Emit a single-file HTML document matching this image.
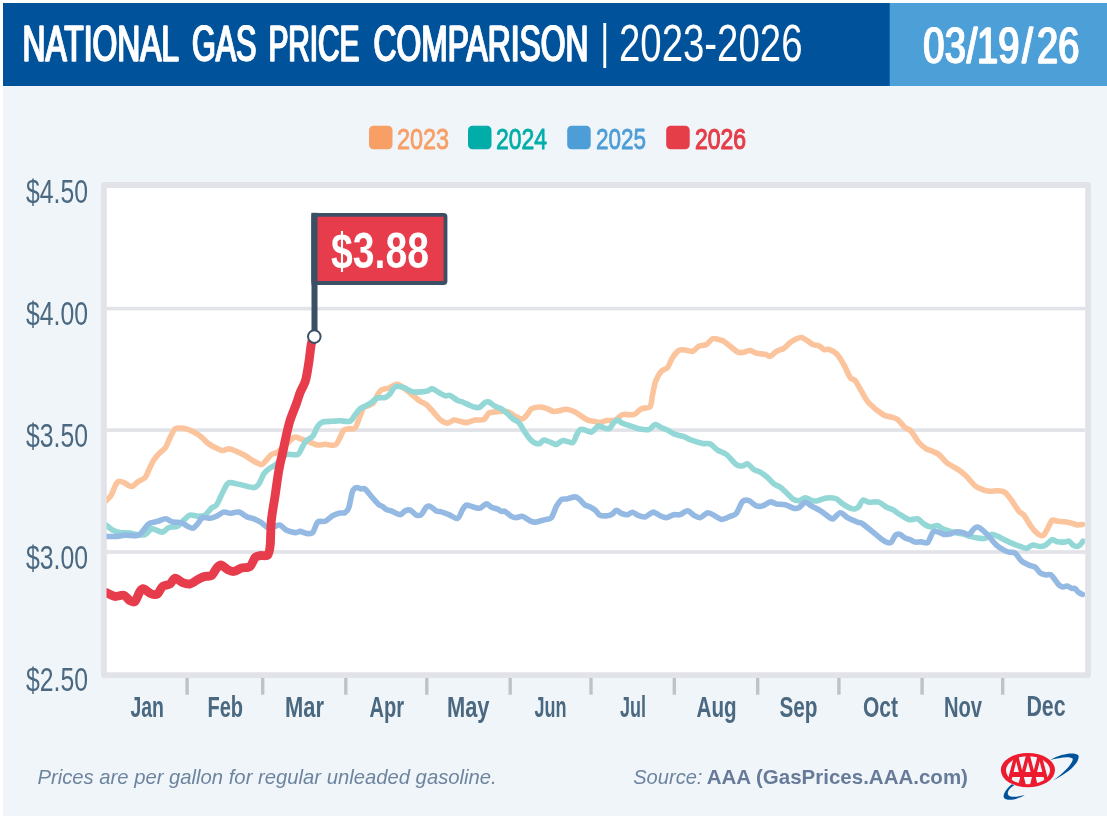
<!DOCTYPE html>
<html lang="en"><head><meta charset="utf-8"><title>National Gas Price Comparison | 2023-2026</title>
<style>
html,body{margin:0;padding:0;background:#fff;}
body{width:1107px;height:816px;overflow:hidden;}
svg{display:block;}
svg text{font-family:"Liberation Sans",sans-serif;white-space:pre;}
</style></head><body>
<svg width="1107" height="816" viewBox="0 0 1107 816">
<rect x="0" y="0" width="1107" height="816" fill="#fff"/>
<rect x="3" y="3" width="1104" height="813" fill="#f0f5fa"/>
<rect x="3" y="3" width="887" height="83" fill="#00529b"/>
<rect x="889.7" y="3" width="217.29999999999995" height="83" fill="#4d9fd8"/>
<defs><filter id="fat" x="-5%" y="-10%" width="110%" height="120%" color-interpolation-filters="sRGB"><feOffset in="SourceGraphic" dx="1" result="a"/><feMerge><feMergeNode in="a"/><feMergeNode in="SourceGraphic"/></feMerge></filter></defs>
<text y="60.9" font-size="50.86" font-weight="400" fill="#fff" stroke="#fff" stroke-width="1.0" stroke-linejoin="round" filter="url(#fat)"><tspan x="21.99" textLength="155.33" lengthAdjust="spacingAndGlyphs">NATIONAL</tspan> <tspan x="191.47" textLength="64.53" lengthAdjust="spacingAndGlyphs">GAS</tspan> <tspan x="267.97" textLength="91.02" lengthAdjust="spacingAndGlyphs">PRICE</tspan> <tspan x="372.98" textLength="215.04" lengthAdjust="spacingAndGlyphs">COMPARISON</tspan></text>
<text x="600.3" y="58.4" font-size="47.5" fill="#fff" textLength="9" lengthAdjust="spacingAndGlyphs">|</text>
<text x="618.95" y="61.1" font-size="51.86" font-weight="400" fill="#fff" textLength="183.58" lengthAdjust="spacingAndGlyphs">2023-2026</text>
<text transform="translate(0,63.1) scale(0.75,1)" x="1230.3 1259.1 1288.5 1302.1 1330.5 1362.3 1382.1 1410.3" y="0" font-size="50.6" font-weight="400" fill="#fff" stroke="#fff" stroke-width="1.0" stroke-linejoin="round" filter="url(#fat)" >03/19/26</text>
<rect x="369" y="125.8" width="23.5" height="23.5" rx="4.5" fill="#f79f65"/>
<text x="396.98" y="149.2" font-size="29.14" font-weight="400" fill="#f79f65" stroke="#f79f65" stroke-width="0.8" stroke-linejoin="round" textLength="52.06" lengthAdjust="spacingAndGlyphs">2023</text>
<rect x="468" y="125.8" width="23.5" height="23.5" rx="4.5" fill="#00ada8"/>
<text x="496.0" y="149.2" font-size="29.14" font-weight="400" fill="#00ada8" stroke="#00ada8" stroke-width="0.8" stroke-linejoin="round" textLength="51.04" lengthAdjust="spacingAndGlyphs">2024</text>
<rect x="567.2" y="125.8" width="23.5" height="23.5" rx="4.5" fill="#4d9dd6"/>
<text x="595.98" y="149.2" font-size="29.14" font-weight="400" fill="#4d9dd6" stroke="#4d9dd6" stroke-width="0.8" stroke-linejoin="round" textLength="50.05" lengthAdjust="spacingAndGlyphs">2025</text>
<rect x="666.2" y="125.8" width="23.5" height="23.5" rx="4.5" fill="#e63e49"/>
<text x="694.99" y="149.2" font-size="29.14" font-weight="400" fill="#e63e49" stroke="#e63e49" stroke-width="1.2" stroke-linejoin="round" textLength="51.03" lengthAdjust="spacingAndGlyphs">2026</text>
<rect x="103.9" y="185" width="984.2" height="490.2" rx="1" fill="#fff" stroke="#e1e3e8" stroke-width="5.8"/>
<rect x="106.5" y="306.8" width="978.5" height="3.6" fill="#e1e3e8"/>
<rect x="106.5" y="428.3" width="978.5" height="3.6" fill="#e1e3e8"/>
<rect x="106.5" y="550.2" width="978.5" height="3.6" fill="#e1e3e8"/>
<text x="25.99" y="203.3" font-size="33.71" font-weight="400" fill="#4a6880" textLength="62.02" lengthAdjust="spacingAndGlyphs">$4.50</text>
<text x="25.99" y="325.2" font-size="33.71" font-weight="400" fill="#4a6880" textLength="62.02" lengthAdjust="spacingAndGlyphs">$4.00</text>
<text x="25.99" y="447.1" font-size="33.71" font-weight="400" fill="#4a6880" textLength="62.02" lengthAdjust="spacingAndGlyphs">$3.50</text>
<text x="25.99" y="569.0" font-size="33.71" font-weight="400" fill="#4a6880" textLength="62.02" lengthAdjust="spacingAndGlyphs">$3.00</text>
<text x="25.99" y="690.9" font-size="33.71" font-weight="400" fill="#4a6880" textLength="62.02" lengthAdjust="spacingAndGlyphs">$2.50</text>
<rect x="185.4" y="678" width="3.4" height="16.7" fill="#bfc2c9"/>
<rect x="261.0" y="678" width="3.4" height="16.7" fill="#bfc2c9"/>
<rect x="344.1" y="678" width="3.4" height="16.7" fill="#bfc2c9"/>
<rect x="425.1" y="678" width="3.4" height="16.7" fill="#bfc2c9"/>
<rect x="508.5" y="678" width="3.4" height="16.7" fill="#bfc2c9"/>
<rect x="589.3" y="678" width="3.4" height="16.7" fill="#bfc2c9"/>
<rect x="672.5999999999999" y="678" width="3.4" height="16.7" fill="#bfc2c9"/>
<rect x="756.0" y="678" width="3.4" height="16.7" fill="#bfc2c9"/>
<rect x="837.1999999999999" y="678" width="3.4" height="16.7" fill="#bfc2c9"/>
<rect x="920.4" y="678" width="3.4" height="16.7" fill="#bfc2c9"/>
<rect x="1001.0" y="678" width="3.4" height="16.7" fill="#bfc2c9"/>
<text x="130.48" y="717.4" font-size="29.0" font-weight="700" fill="#4a6880" textLength="33.54" lengthAdjust="spacingAndGlyphs">Jan</text>
<text x="207.47" y="717.4" font-size="29.0" font-weight="700" fill="#4a6880" textLength="35.54" lengthAdjust="spacingAndGlyphs">Feb</text>
<text x="284.97" y="717.4" font-size="29.0" font-weight="700" fill="#4a6880" textLength="39.03" lengthAdjust="spacingAndGlyphs">Mar</text>
<text x="369.5" y="717.4" font-size="29.0" font-weight="700" fill="#4a6880" textLength="34.52" lengthAdjust="spacingAndGlyphs">Apr</text>
<text x="446.92" y="717.4" font-size="29.0" font-weight="700" fill="#4a6880" textLength="42.6" lengthAdjust="spacingAndGlyphs">May</text>
<text x="534.49" y="717.4" font-size="29.0" font-weight="700" fill="#4a6880" textLength="32.03" lengthAdjust="spacingAndGlyphs">Jun</text>
<text x="620.0" y="717.4" font-size="29.0" font-weight="700" fill="#4a6880" textLength="26.04" lengthAdjust="spacingAndGlyphs">Jul</text>
<text x="696.51" y="717.4" font-size="29.0" font-weight="700" fill="#4a6880" textLength="40.07" lengthAdjust="spacingAndGlyphs">Aug</text>
<text x="779.48" y="717.4" font-size="29.0" font-weight="700" fill="#4a6880" textLength="38.04" lengthAdjust="spacingAndGlyphs">Sep</text>
<text x="863.0" y="717.4" font-size="29.0" font-weight="700" fill="#4a6880" textLength="35.0" lengthAdjust="spacingAndGlyphs">Oct</text>
<text x="943.93" y="717.4" font-size="29.0" font-weight="700" fill="#4a6880" textLength="38.09" lengthAdjust="spacingAndGlyphs">Nov</text>
<text x="1026.41" y="715.6" font-size="29.0" font-weight="700" fill="#4a6880" textLength="39.12" lengthAdjust="spacingAndGlyphs">Dec</text>
<clipPath id="pc"><rect x="106.5" y="188" width="978.5" height="484"/></clipPath>
<g clip-path="url(#pc)">
<path d="M106.3,500.6C107.0,499.8 110.1,497.1 111.3,495.1C112.5,493.1 114.0,488.2 115.0,486.3C116.0,484.4 117.4,481.7 118.8,481.3C120.2,480.9 123.6,482.5 125.0,483.1C126.4,483.7 127.8,485.2 128.8,485.6C129.9,486.0 131.3,486.8 132.5,486.3C133.7,485.8 135.8,483.3 137.5,482.1C139.2,480.9 143.4,479.3 145.0,477.6C146.6,475.9 147.6,472.5 148.8,470.0C150.0,467.5 152.2,462.4 153.8,460.0C155.4,457.6 158.4,454.2 160.1,452.5C161.8,450.8 164.2,449.6 165.6,447.5C167.0,445.4 168.8,440.1 170.1,437.5C171.4,434.9 173.7,430.1 175.1,428.8C176.5,427.5 178.5,428.0 180.1,428.0C181.7,428.0 184.4,428.2 186.3,428.8C188.2,429.4 191.7,430.9 193.8,432.0C195.9,433.1 199.4,435.5 201.3,437.0C203.2,438.5 205.7,441.5 207.6,443.0C209.5,444.5 213.0,446.4 215.1,447.5C217.2,448.6 220.7,450.3 222.6,450.5C224.5,450.7 227.0,448.7 228.9,448.8C230.8,448.9 234.1,450.4 236.4,451.3C238.7,452.2 242.8,454.2 245.1,455.5C247.4,456.8 250.3,459.2 252.6,460.5C254.9,461.8 259.5,464.6 261.4,464.5C263.3,464.4 265.0,461.4 266.4,460.0C267.8,458.6 269.8,455.6 271.4,454.5C273.0,453.4 274.6,454.4 277.7,452.0C280.8,449.6 290.8,439.3 293.9,437.5C297.0,435.7 298.3,438.3 300.2,438.8C302.1,439.3 305.2,440.4 307.7,441.3C310.1,442.2 315.2,444.6 317.7,445.0C320.1,445.4 322.8,444.3 325.2,444.3C327.6,444.3 333.1,445.9 335.2,445.0C337.3,444.1 338.8,439.7 340.0,437.6C341.2,435.5 342.6,431.3 343.8,430.1C345.0,428.9 347.2,429.1 348.8,428.8C350.4,428.5 353.4,429.9 355.0,428.1C356.6,426.4 358.8,419.2 360.0,416.3C361.2,413.4 362.1,409.2 363.8,407.5C365.6,405.8 370.6,405.6 372.5,403.8C374.4,402.1 376.3,396.9 377.5,395.0C378.7,393.1 379.7,391.0 381.3,390.0C382.9,389.0 386.7,388.8 388.8,388.0C390.9,387.2 394.7,384.7 396.3,384.3C397.9,383.9 398.7,384.7 400.1,385.5C401.5,386.3 404.6,388.7 406.3,390.0C408.1,391.3 410.7,393.4 412.6,395.0C414.5,396.6 418.2,400.0 420.1,401.3C422.0,402.6 424.4,402.9 426.3,404.5C428.2,406.1 431.9,410.4 433.8,412.5C435.7,414.6 438.2,418.1 440.1,419.6C442.0,421.1 445.7,423.0 447.6,423.1C449.5,423.2 452.1,420.4 453.9,420.1C455.6,419.8 458.4,420.9 460.1,421.3C461.9,421.7 464.3,422.8 466.4,422.6C468.5,422.4 472.7,420.5 475.1,420.1C477.6,419.7 482.0,420.6 483.9,419.6C485.8,418.6 487.3,414.1 488.9,413.0C490.5,411.9 493.2,412.2 495.1,412.0C497.0,411.8 500.7,411.3 502.6,411.3C504.5,411.3 507.1,411.3 508.9,412.0C510.7,412.7 513.3,415.3 515.2,416.3C517.1,417.3 521.0,419.2 522.7,418.8C524.5,418.4 526.5,415.2 527.7,413.8C528.9,412.4 529.8,409.8 531.4,408.8C533.0,407.8 536.8,407.1 538.9,407.0C541.0,406.9 544.5,407.7 546.4,408.3C548.3,408.9 551.0,410.9 552.7,411.3C554.5,411.7 557.0,411.1 558.9,410.8C560.8,410.5 564.2,409.1 566.5,409.3C568.8,409.5 573.1,411.0 575.2,412.0C577.3,413.0 579.8,415.2 581.5,416.3C583.2,417.4 586.0,419.4 587.7,420.1C589.5,420.8 592.3,420.9 594.0,421.3C595.7,421.7 598.3,422.7 600.0,422.6C601.7,422.5 604.2,421.0 606.3,420.6C608.4,420.2 612.7,420.9 615.0,420.1C617.3,419.3 619.9,415.4 622.5,414.6C625.1,413.8 631.2,415.4 633.8,414.6C636.4,413.8 639.0,409.9 641.3,408.8C643.6,407.7 648.4,408.7 650.0,406.8C651.6,404.9 651.7,398.7 652.5,395.1C653.3,391.5 654.4,384.6 655.6,381.3C656.8,378.0 659.6,373.2 661.3,371.3C663.0,369.4 666.0,369.4 667.6,367.5C669.2,365.6 671.0,359.9 672.6,357.5C674.2,355.1 677.0,351.6 678.8,350.5C680.5,349.4 683.2,349.9 685.1,350.0C687.0,350.1 690.7,351.8 692.6,351.3C694.5,350.8 696.9,347.3 698.8,346.3C700.7,345.3 704.4,345.6 706.3,344.5C708.2,343.4 711.0,339.5 712.6,338.8C714.2,338.1 716.0,338.9 717.6,339.3C719.2,339.7 722.1,340.3 723.9,341.3C725.6,342.3 728.2,344.8 730.1,346.3C732.0,347.8 735.9,351.1 737.6,352.0C739.4,352.9 740.9,352.7 742.6,352.5C744.4,352.3 748.2,350.4 750.1,350.5C752.0,350.6 754.3,352.8 756.4,353.3C758.5,353.8 763.2,353.9 765.1,354.3C767.0,354.7 768.6,356.7 770.2,356.3C771.8,355.9 774.5,352.4 776.4,351.3C778.3,350.2 782.0,349.5 783.9,348.3C785.8,347.1 788.5,343.8 790.2,342.5C792.0,341.2 794.8,339.5 796.4,338.8C798.0,338.1 800.0,337.3 801.4,337.5C802.8,337.7 804.8,339.0 806.4,340.0C808.0,341.0 811.0,343.7 812.7,344.5C814.5,345.3 817.3,345.1 818.9,345.8C820.5,346.5 822.6,349.0 824.0,349.5C825.4,350.0 827.2,348.9 829.0,349.5C830.8,350.1 834.4,351.6 836.5,353.8C838.6,356.0 842.1,361.7 844.0,365.0C845.9,368.3 848.6,375.4 850.2,377.6C851.8,379.8 853.6,378.7 855.2,380.6C856.8,382.5 859.6,388.2 861.5,391.3C863.4,394.4 865.9,399.8 869.0,403.1C872.1,406.4 880.7,413.1 883.8,415.0C886.9,416.9 889.4,416.4 891.3,417.0C893.2,417.6 895.7,418.0 897.6,419.5C899.5,421.0 903.2,425.8 905.1,427.5C907.0,429.2 909.4,429.2 911.3,431.3C913.2,433.4 916.7,440.1 918.8,442.5C920.9,444.9 924.4,447.6 926.3,448.8C928.2,450.0 930.9,450.5 932.6,451.3C934.4,452.1 936.9,452.9 938.8,454.5C940.7,456.1 944.5,460.8 946.4,462.5C948.3,464.2 950.9,465.2 952.6,466.3C954.4,467.4 957.0,468.7 958.9,470.1C960.8,471.5 964.1,474.1 966.4,476.3C968.7,478.5 972.8,483.9 975.1,485.8C977.4,487.7 980.5,488.8 982.6,489.6C984.7,490.4 988.0,491.1 990.1,491.3C992.2,491.5 995.6,490.6 997.7,490.8C999.8,491.0 1003.3,491.3 1005.2,492.6C1007.1,493.9 1009.5,497.5 1011.4,500.1C1013.3,502.7 1017.1,509.2 1018.9,511.3C1020.6,513.4 1022.3,513.2 1023.9,515.1C1025.5,517.0 1028.5,522.6 1030.2,525.1C1032.0,527.6 1034.7,531.1 1036.4,532.6C1038.2,534.1 1041.2,536.2 1042.7,535.7C1044.2,535.2 1046.1,531.2 1047.4,529.0C1048.7,526.8 1050.7,521.3 1052.1,520.2C1053.5,519.1 1055.8,521.1 1057.5,521.3C1059.2,521.5 1062.4,521.6 1064.3,521.8C1066.2,522.0 1069.2,522.5 1071.0,522.9C1072.8,523.3 1075.5,524.7 1077.1,524.9C1078.7,525.1 1081.7,524.6 1082.5,524.5" fill="none" stroke="#fbc49c" stroke-width="5.6" stroke-linejoin="round" stroke-linecap="round"/>
<path d="M106.3,525.1C107.2,525.8 110.6,529.1 112.5,530.1C114.4,531.1 117.5,532.2 120.0,532.6C122.5,533.0 127.5,532.8 130.0,533.1C132.4,533.4 135.4,534.4 137.5,534.6C139.6,534.8 143.1,535.4 145.0,534.6C146.9,533.8 149.7,529.4 151.3,528.8C152.9,528.2 154.7,529.6 156.3,530.1C157.9,530.6 160.8,532.5 162.6,532.1C164.3,531.8 166.7,528.4 168.8,527.6C170.9,526.8 175.5,527.3 177.6,526.3C179.7,525.2 182.1,521.7 183.8,520.1C185.6,518.5 188.0,515.6 190.1,515.1C192.2,514.6 196.7,516.3 198.8,516.3C200.9,516.3 203.3,516.2 205.1,515.1C206.9,514.0 209.8,509.5 211.4,508.1C213.0,506.7 215.0,506.9 216.4,505.1C217.8,503.3 220.0,497.9 221.4,495.1C222.8,492.3 225.2,486.9 226.4,485.1C227.6,483.4 228.2,482.7 230.1,482.6C232.0,482.5 236.8,483.9 240.1,484.6C243.4,485.3 251.3,487.7 253.9,487.6C256.5,487.5 257.5,485.7 258.9,483.8C260.3,481.9 262.5,475.9 263.9,473.8C265.3,471.7 267.3,470.0 268.9,468.8C270.5,467.6 273.6,466.2 275.2,465.0C276.8,463.8 278.6,461.5 280.2,460.0C281.8,458.5 283.9,455.3 286.4,454.5C288.8,453.7 295.4,455.6 297.7,454.5C300.0,453.4 301.5,448.3 302.7,446.3C303.9,444.3 305.0,441.9 306.4,440.5C307.8,439.1 311.1,438.3 312.7,436.3C314.3,434.3 316.3,428.3 317.7,426.3C319.1,424.3 320.6,422.7 322.7,422.0C324.8,421.3 330.3,421.5 332.7,421.3C335.1,421.1 337.6,420.8 340.0,420.8C342.4,420.8 347.9,422.1 350.0,421.3C352.1,420.5 353.6,416.8 355.0,415.0C356.4,413.2 358.6,410.0 360.0,408.8C361.4,407.6 363.4,407.2 365.0,406.3C366.6,405.4 369.6,403.7 371.3,402.5C373.1,401.3 375.6,398.7 377.5,398.0C379.4,397.3 383.2,398.1 385.0,397.5C386.8,396.9 388.8,395.1 390.0,393.8C391.2,392.5 392.7,389.1 393.8,388.0C394.9,386.9 396.0,386.3 397.6,386.3C399.2,386.3 403.0,387.2 405.1,388.0C407.2,388.8 409.6,391.3 412.6,391.8C415.6,392.3 423.6,391.7 426.3,391.3C429.0,390.9 430.4,388.6 432.1,388.8C433.9,389.0 437.0,391.5 438.8,392.5C440.6,393.5 443.5,395.4 445.1,395.8C446.7,396.2 448.4,394.8 450.1,395.5C451.9,396.2 455.9,399.6 457.6,400.5C459.4,401.4 460.9,401.3 462.6,402.0C464.4,402.7 468.2,404.7 470.1,405.5C472.0,406.3 475.0,407.3 476.4,407.5C477.8,407.7 478.9,407.7 480.1,407.0C481.3,406.3 483.9,403.2 485.1,402.5C486.3,401.8 487.5,401.5 488.9,402.0C490.3,402.5 493.4,405.3 495.1,406.3C496.9,407.3 499.6,407.8 501.4,408.8C503.2,409.9 505.9,412.3 507.7,413.8C509.4,415.3 512.3,418.4 513.9,419.6C515.5,420.8 517.3,420.8 518.9,422.6C520.5,424.4 523.5,430.1 525.2,432.6C527.0,435.1 529.5,439.0 531.4,440.6C533.3,442.2 537.1,443.9 538.9,443.8C540.6,443.7 542.1,440.3 543.9,440.1C545.6,439.9 549.6,442.0 551.4,442.6C553.1,443.2 554.8,444.9 556.4,444.6C558.0,444.3 560.4,440.9 562.7,440.6C565.0,440.3 570.8,443.4 572.7,442.6C574.6,441.8 575.5,436.9 576.5,435.1C577.5,433.3 579.0,430.3 580.2,429.6C581.4,428.9 583.6,429.8 585.2,430.1C586.8,430.5 589.8,432.6 591.5,432.1C593.2,431.6 596.5,427.1 597.7,426.3C598.9,425.5 598.4,425.9 600.0,426.3C601.6,426.7 606.9,429.3 608.8,428.8C610.7,428.3 612.6,423.8 613.8,422.6C615.0,421.4 616.3,420.0 617.5,420.1C618.7,420.2 620.8,422.5 622.5,423.3C624.2,424.1 627.7,425.0 630.0,425.8C632.3,426.6 636.2,428.3 638.8,428.8C641.4,429.3 646.5,430.2 648.8,429.6C651.1,429.0 653.2,424.9 655.0,424.6C656.8,424.3 659.5,426.8 661.3,427.6C663.1,428.4 665.9,429.2 667.6,430.1C669.4,431.0 671.3,432.9 673.8,433.9C676.2,434.9 682.8,436.3 685.1,437.1C687.4,437.9 687.6,438.7 690.1,439.6C692.6,440.5 699.8,442.8 702.6,443.4C705.4,444.0 708.0,443.0 710.1,443.9C712.2,444.8 715.3,448.6 717.6,450.1C719.9,451.6 723.8,452.4 726.4,454.4C729.0,456.4 734.1,463.0 736.4,464.6C738.7,466.2 741.0,466.0 742.6,465.9C744.2,465.8 746.0,463.4 747.6,463.9C749.2,464.4 752.1,468.5 753.9,469.6C755.6,470.7 758.2,471.0 760.1,472.1C762.0,473.2 765.8,475.9 767.7,477.6C769.6,479.3 772.1,482.6 773.9,483.9C775.6,485.2 778.5,486.0 780.2,487.2C782.0,488.4 784.6,491.1 786.4,492.7C788.1,494.3 791.0,497.8 792.7,498.9C794.5,500.0 797.1,500.9 798.9,500.7C800.6,500.5 803.3,497.7 805.2,497.7C807.1,497.7 811.0,500.3 812.7,500.7C814.5,501.1 816.0,501.1 817.7,500.7C819.5,500.3 823.5,498.6 825.2,498.2C827.0,497.8 828.6,497.6 830.2,497.7C831.8,497.8 834.8,498.0 836.5,498.9C838.2,499.8 840.8,502.6 842.7,503.9C844.6,505.2 848.5,507.5 850.2,508.2C852.0,508.9 854.0,509.2 855.2,508.9C856.4,508.6 858.0,507.6 859.0,506.4C860.0,505.2 861.3,500.8 862.7,500.2C864.1,499.6 866.7,501.9 869.0,502.2C871.3,502.5 876.4,501.4 878.8,502.1C881.2,502.8 884.4,506.1 886.3,507.1C888.2,508.2 890.9,508.7 892.6,509.6C894.4,510.5 896.5,512.4 898.8,513.8C901.1,515.2 906.2,518.9 908.8,519.6C911.4,520.3 915.5,518.2 917.6,518.8C919.7,519.4 922.0,522.8 923.8,523.9C925.5,525.0 928.2,526.7 930.1,526.9C932.0,527.1 935.9,525.3 937.6,525.6C939.4,525.9 941.0,528.2 942.6,528.9C944.2,529.6 947.1,530.4 948.9,530.9C950.6,531.4 953.2,532.2 955.1,532.6C957.0,533.0 960.5,533.4 962.6,533.9C964.7,534.4 968.0,535.8 970.1,536.4C972.2,537.0 975.5,537.8 977.6,538.1C979.7,538.4 983.2,538.9 985.1,538.4C987.0,537.9 989.6,534.7 991.4,534.4C993.2,534.1 995.8,535.6 997.7,536.4C999.6,537.2 1003.3,539.2 1005.2,540.1C1007.1,541.0 1009.3,542.2 1011.4,543.1C1013.5,544.0 1018.1,545.7 1020.2,546.4C1022.3,547.1 1024.7,548.6 1026.4,548.4C1028.2,548.2 1030.8,545.4 1032.7,545.1C1034.6,544.8 1038.2,546.5 1040.0,546.5C1041.8,546.5 1043.7,546.1 1045.4,545.2C1047.1,544.3 1050.4,540.3 1052.1,539.8C1053.8,539.3 1055.8,541.5 1057.5,541.8C1059.2,542.1 1062.7,542.2 1064.3,542.1C1065.9,542.0 1067.8,540.7 1069.0,541.1C1070.2,541.5 1071.8,544.4 1073.0,545.2C1074.2,546.0 1076.7,546.6 1077.7,546.5C1078.7,546.4 1079.7,545.3 1080.4,544.5C1081.1,543.7 1082.6,541.6 1082.9,541.1" fill="none" stroke="#93d7d6" stroke-width="5.6" stroke-linejoin="round" stroke-linecap="round"/>
<path d="M106.3,536.4C107.9,536.4 114.9,536.6 117.5,536.4C120.1,536.2 122.2,535.2 125.0,535.1C127.8,535.0 135.1,536.1 137.5,535.6C139.9,535.1 140.9,533.1 142.5,531.4C144.1,529.7 146.7,525.2 148.8,523.8C150.9,522.4 155.2,522.0 157.6,521.3C160.0,520.6 163.5,518.7 165.6,518.8C167.7,518.9 170.4,521.6 172.6,522.1C174.8,522.6 179.2,522.0 181.3,522.6C183.4,523.2 185.9,525.5 187.6,526.3C189.3,527.1 191.7,528.5 193.1,528.1C194.5,527.8 196.3,525.3 197.6,523.8C198.9,522.3 200.8,518.4 202.6,517.6C204.3,516.8 208.2,518.5 210.1,518.3C212.0,518.1 214.5,517.2 216.4,516.3C218.3,515.4 222.0,512.5 223.9,512.1C225.8,511.7 228.0,513.3 230.1,513.3C232.2,513.3 236.5,511.6 238.9,512.1C241.3,512.6 245.5,516.2 247.6,517.1C249.7,518.0 252.0,518.0 253.9,518.8C255.8,519.6 259.5,521.4 261.4,522.6C263.3,523.8 265.8,527.1 267.7,527.6C269.6,528.1 273.4,526.6 275.2,526.3C276.9,525.9 278.6,524.6 280.2,525.1C281.8,525.6 284.3,529.1 286.4,530.1C288.5,531.1 293.3,532.4 295.2,532.6C297.1,532.8 298.6,531.3 300.2,531.4C301.8,531.5 304.6,533.2 306.4,533.4C308.1,533.6 311.1,534.2 312.7,532.6C314.3,531.0 315.9,523.7 317.7,522.1C319.4,520.5 323.1,522.2 325.2,521.3C327.3,520.4 330.6,516.9 332.7,515.8C334.8,514.7 338.3,513.5 340.0,513.1C341.7,512.7 343.8,513.4 345.0,512.6C346.2,511.8 347.8,510.6 348.8,507.6C349.9,504.6 351.4,494.2 352.5,491.4C353.6,488.6 355.1,488.0 356.3,487.6C357.5,487.2 360.1,488.7 361.3,488.9C362.5,489.1 363.6,487.8 365.0,488.9C366.4,489.9 369.4,494.2 371.3,496.4C373.2,498.6 377.2,503.2 378.8,504.6C380.4,506.0 381.4,505.7 382.5,506.4C383.6,507.1 385.1,509.0 386.3,509.6C387.5,510.2 389.4,510.2 391.3,510.9C393.2,511.6 398.2,514.6 400.1,514.6C402.0,514.6 403.7,511.5 405.1,510.9C406.5,510.3 408.5,509.5 410.1,510.1C411.7,510.7 414.7,514.5 416.3,515.1C417.9,515.7 419.9,515.7 421.3,514.6C422.7,513.5 425.1,508.2 426.3,507.1C427.5,506.0 428.7,505.9 430.1,506.4C431.5,506.9 434.7,510.1 436.3,510.9C437.9,511.7 439.6,511.4 441.3,511.9C443.1,512.4 446.5,513.7 448.8,514.6C451.1,515.5 455.7,519.1 457.6,518.4C459.5,517.7 461.4,511.5 462.6,509.6C463.8,507.7 465.3,505.6 466.4,505.1C467.4,504.6 468.9,505.5 470.1,505.9C471.3,506.2 473.7,507.3 475.1,507.6C476.5,507.9 478.5,508.6 480.1,508.1C481.7,507.6 484.8,504.0 486.4,503.9C488.0,503.8 489.8,506.4 491.4,507.1C493.0,507.8 496.2,508.5 497.6,509.1C499.0,509.7 500.3,511.1 501.4,511.4C502.4,511.7 503.7,510.7 505.1,511.4C506.5,512.1 509.8,515.5 511.4,516.4C513.0,517.3 514.8,517.6 516.4,517.6C518.0,517.6 520.8,515.9 522.7,516.4C524.6,516.9 528.5,520.1 530.2,520.9C532.0,521.7 533.1,522.3 535.2,522.1C537.3,521.9 542.9,520.2 545.2,519.6C547.5,519.0 549.8,519.4 551.4,517.6C553.0,515.8 555.0,508.9 556.4,506.4C557.8,503.9 560.0,500.7 561.4,499.6C562.8,498.6 564.6,499.3 566.5,498.9C568.4,498.5 573.5,496.9 575.2,496.9C577.0,496.9 577.6,497.8 579.0,498.9C580.4,500.0 583.6,504.0 585.2,505.1C586.8,506.2 588.8,506.2 590.2,506.9C591.6,507.6 593.8,508.9 595.2,510.1C596.6,511.3 598.3,514.4 600.0,515.2C601.7,516.0 605.8,515.9 607.5,515.7C609.2,515.5 611.3,514.7 612.5,513.9C613.7,513.1 615.1,510.3 616.3,510.2C617.5,510.1 619.7,512.8 621.3,513.4C622.9,514.0 625.9,514.9 627.5,514.7C629.1,514.5 630.9,512.1 632.5,512.2C634.1,512.3 637.0,515.0 638.8,515.7C640.5,516.4 643.4,517.2 645.0,516.9C646.6,516.6 648.8,514.6 650.0,513.9C651.2,513.2 652.4,511.9 653.8,512.2C655.2,512.5 658.4,514.9 660.1,515.7C661.9,516.5 664.4,517.8 666.3,517.7C668.2,517.6 671.9,515.1 673.8,514.7C675.7,514.3 678.2,515.3 680.1,514.7C682.0,514.1 685.7,510.6 687.6,510.7C689.5,510.8 692.0,514.2 693.8,515.2C695.5,516.2 698.2,518.1 700.1,517.7C702.0,517.4 705.7,513.1 707.6,512.7C709.5,512.4 712.0,514.3 713.9,515.2C715.8,516.1 719.1,519.2 721.4,519.4C723.7,519.6 728.0,517.3 730.1,516.4C732.2,515.5 734.6,515.3 736.4,513.2C738.1,511.1 740.9,503.1 742.6,501.4C744.4,499.6 747.0,500.1 748.9,500.7C750.8,501.3 754.5,505.2 756.4,505.9C758.3,506.6 760.7,506.5 762.6,505.9C764.5,505.3 768.3,502.2 770.2,501.9C772.1,501.6 774.3,503.5 776.4,503.9C778.5,504.3 782.8,504.1 785.2,504.7C787.7,505.3 792.0,507.8 793.9,508.2C795.8,508.6 797.3,508.5 798.9,507.7C800.5,506.9 803.5,502.5 805.2,502.2C807.0,501.9 809.3,504.7 811.4,505.9C813.5,507.1 818.1,509.4 820.2,510.7C822.3,512.0 824.8,514.1 826.5,515.2C828.2,516.3 830.8,519.2 832.7,518.9C834.6,518.5 838.1,512.9 840.2,512.7C842.3,512.5 845.2,516.4 847.7,517.7C850.2,519.0 855.6,521.3 857.7,522.2C859.8,523.1 859.4,521.6 862.7,523.9C866.0,526.2 877.8,536.3 881.3,538.9C884.8,541.5 886.2,542.2 887.6,542.6C889.0,543.0 890.2,543.1 891.3,542.1C892.4,541.1 894.4,536.2 895.6,535.1C896.8,534.0 898.8,534.0 900.1,534.4C901.4,534.8 903.7,537.4 905.1,538.1C906.5,538.8 908.7,539.0 910.1,539.6C911.5,540.2 913.5,541.8 915.1,542.1C916.7,542.4 919.5,541.8 921.3,541.9C923.0,542.0 926.0,543.9 927.6,542.6C929.2,541.3 931.4,534.2 932.6,532.6C933.8,531.0 934.7,531.1 936.3,531.4C937.9,531.7 942.0,534.0 943.9,534.4C945.8,534.8 948.4,534.2 950.1,533.9C951.9,533.5 954.6,532.1 956.4,531.9C958.1,531.7 960.9,532.2 962.6,532.6C964.4,533.0 967.3,534.9 968.9,534.4C970.5,533.9 972.7,529.9 973.9,528.9C975.1,527.9 976.4,526.9 977.6,527.1C978.8,527.3 981.0,528.8 982.6,530.1C984.2,531.4 987.0,534.3 988.9,536.4C990.8,538.5 994.3,543.2 996.4,545.1C998.5,547.0 1002.1,549.1 1003.9,550.1C1005.6,551.1 1007.3,551.7 1008.9,552.1C1010.5,552.5 1013.5,551.9 1015.2,553.1C1017.0,554.3 1019.5,559.2 1021.4,560.9C1023.3,562.6 1027.0,564.2 1028.9,565.1C1030.8,566.0 1033.6,566.0 1035.2,567.1C1036.8,568.2 1038.6,571.7 1040.0,572.8C1041.4,573.9 1043.9,574.5 1045.4,574.8C1046.9,575.1 1049.5,574.1 1050.8,574.8C1052.1,575.5 1053.7,578.1 1054.8,579.5C1055.9,580.9 1057.8,583.9 1058.9,584.9C1060.0,585.9 1061.8,586.8 1062.9,587.0C1064.0,587.2 1065.8,585.8 1067.0,586.0C1068.2,586.2 1070.6,587.9 1071.7,588.3C1072.8,588.7 1074.2,588.1 1075.1,588.7C1076.0,589.3 1077.4,591.5 1078.4,592.3C1079.4,593.1 1081.9,594.1 1082.5,594.4" fill="none" stroke="#94bae4" stroke-width="5.6" stroke-linejoin="round" stroke-linecap="round"/>
<path d="M106.3,592.7C107.5,593.2 112.5,596.0 115.0,596.4C117.5,596.8 121.7,594.6 123.8,595.2C125.9,595.8 128.4,599.8 130.0,600.7C131.6,601.6 133.6,602.7 135.0,601.4C136.4,600.1 138.8,593.1 140.0,591.4C141.2,589.6 142.2,588.5 143.8,588.9C145.4,589.2 149.4,593.2 151.3,593.9C153.2,594.6 156.0,594.9 157.6,593.9C159.2,592.9 160.8,587.8 162.6,586.4C164.3,585.0 168.3,585.1 170.1,583.9C171.8,582.7 173.3,578.3 175.1,578.1C176.8,577.9 180.5,581.8 182.6,582.6C184.7,583.4 187.8,584.4 190.1,583.9C192.4,583.4 196.7,579.9 198.8,578.9C200.9,577.9 203.3,576.9 205.1,576.4C206.9,575.9 209.7,576.8 211.4,575.6C213.1,574.4 215.7,569.1 217.1,567.6C218.5,566.1 219.9,564.8 221.4,565.1C222.9,565.4 225.8,568.7 227.6,569.6C229.3,570.5 232.0,571.6 233.9,571.4C235.8,571.2 239.1,568.8 241.4,568.1C243.7,567.4 248.2,567.9 250.1,566.4C252.0,564.9 253.7,559.1 255.1,557.6C256.5,556.1 258.3,556.0 260.1,555.6C261.9,555.2 266.3,556.6 267.7,555.1C269.1,553.6 269.7,550.0 270.2,545.1C270.7,540.2 270.7,527.1 271.4,520.1C272.1,513.1 274.1,502.1 275.2,495.1C276.2,488.1 277.8,476.0 278.9,470.0C279.9,464.0 281.6,457.4 282.7,452.5C283.8,447.6 285.3,439.6 286.4,435.0C287.4,430.4 288.8,424.4 290.2,420.0C291.6,415.6 294.9,407.7 296.3,403.9C297.7,400.1 298.8,396.0 300.1,392.7C301.4,389.4 304.4,384.4 305.6,380.2C306.8,376.0 308.0,367.7 308.8,362.6C309.6,357.5 310.6,347.5 311.3,343.9C312.0,340.3 313.4,338.1 313.8,337.1" fill="none" stroke="#e63c4b" stroke-width="8.9" stroke-linejoin="round" stroke-linecap="round"/>
</g>
<rect x="311.5" y="212.9" width="6" height="118" fill="#3b5064"/>
<rect x="313.4" y="214.8" width="132.1" height="68.2" rx="1.8" fill="#e63c4b" stroke="#3b5064" stroke-width="3.8"/>
<rect x="311.5" y="212.9" width="6" height="72" fill="#3b5064"/>
<circle cx="314.3" cy="336.6" r="6.3" fill="#fff" stroke="#3b5064" stroke-width="2"/>
<text x="330.99" y="268.1" font-size="50.0" font-weight="700" fill="#fff" textLength="98.05" lengthAdjust="spacingAndGlyphs">$3.88</text>
<text x="37.4" y="783.9" font-size="20.25" font-style="italic" fill="#6d849f">Prices are per gallon for regular unleaded gasoline.</text>
<text x="633.2" y="783.9" font-size="20.1" font-style="italic" fill="#6d849f">Source:</text>
<text x="706.7" y="783.9" font-size="20.5" font-weight="700" fill="#677b99">AAA (GasPrices.AAA.com)</text>
<g id="aaa-logo">
<path d="M1050.1,759.9 C1062,753.5 1074,751.8 1078.5,755.4 C1080,763 1068,773 1053.3,780.4 C1065,772 1074,762 1072.6,758.5 C1068,755.5 1058,758.5 1050.1,759.9 Z" fill="#00529b"/>
<path d="M1011.7,784.3 C1005,790 1002,796 1004.5,798.6 C1009,801.5 1018,799 1024.8,795.1 C1016,797.5 1009,797.5 1008,794.5 C1007,791.5 1010,787.5 1014.4,785.2 Z" fill="#00529b"/>
<ellipse cx="1027.9" cy="770.1" rx="27.1" ry="17.1" fill="#ed1b2e"/>
<ellipse cx="1028" cy="770.3" rx="22" ry="14" fill="#f0f5fa"/>
<clipPath id="lc"><ellipse cx="1028" cy="770.3" rx="22" ry="14.6"/></clipPath>
<g clip-path="url(#lc)"><text transform="translate(0,785.4) scale(0.64,1)" font-size="43" font-weight="400" fill="#ed1b2e" stroke="#ed1b2e" stroke-width="1.9" stroke-linejoin="miter" text-anchor="middle"><tspan x="1587.8">A</tspan><tspan x="1606.1">A</tspan><tspan x="1624.5">A</tspan></text></g>
</g>
</svg></body></html>
